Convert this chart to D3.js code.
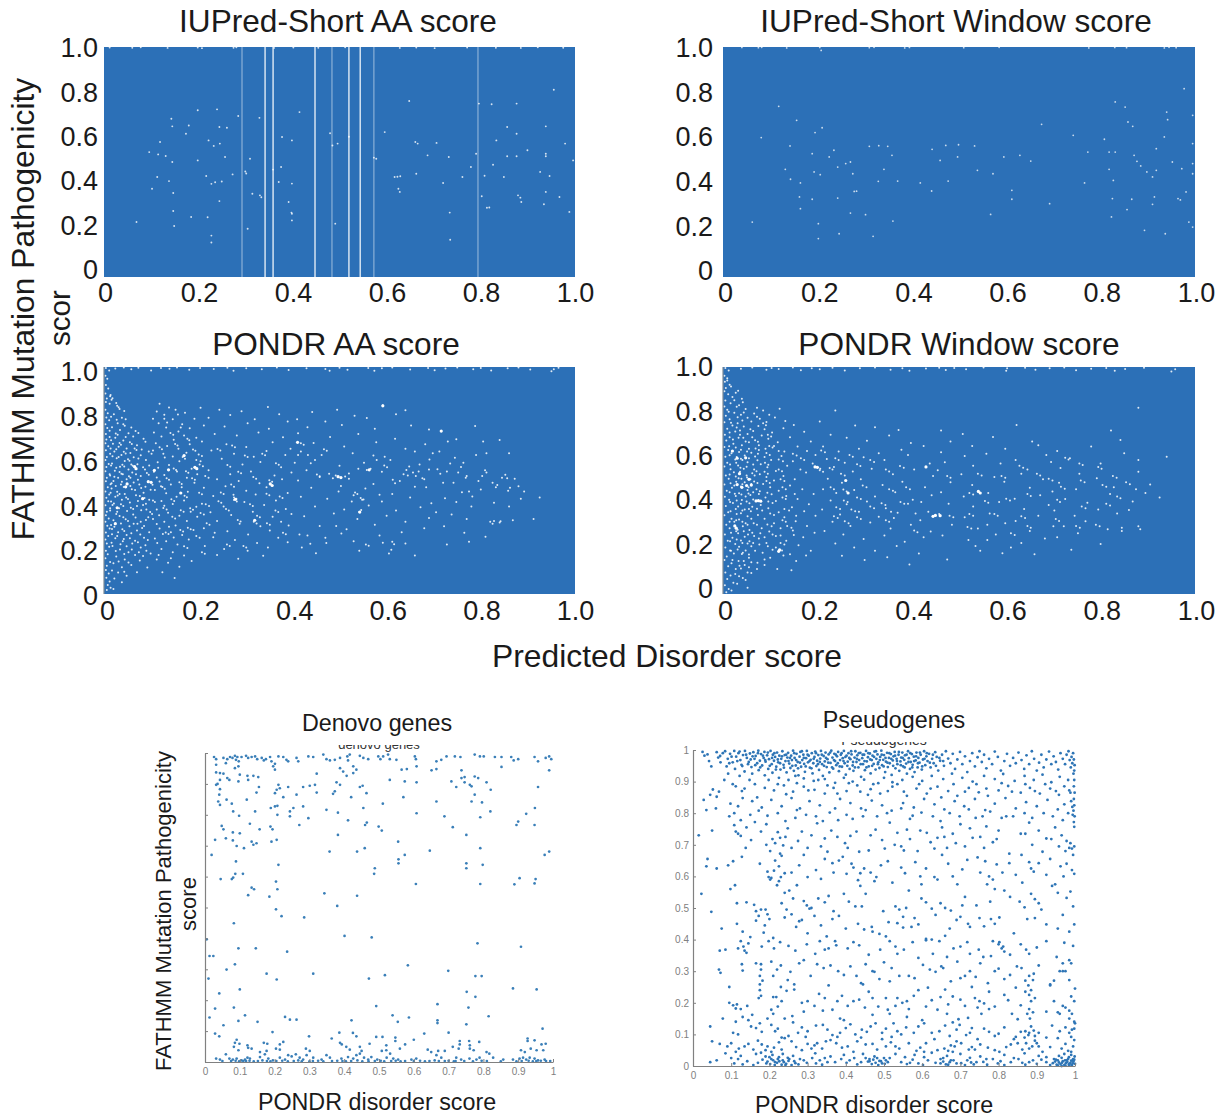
<!DOCTYPE html>
<html>
<head>
<meta charset="utf-8">
<script src="https://cdnjs.cloudflare.com/ajax/libs/d3/7.8.5/d3.min.js"></script>
<style>
  html, body { margin: 0; padding: 0; background: #fff; }
  svg { display: block; font-family: "Liberation Sans", Arial, sans-serif; }
  .soft { filter: blur(0.35px); }
</style>
</head>
<body>
<div id="chart"></div>
<script>
// tick values
const topTicks = [0, 0.2, 0.4, 0.6, 0.8, 1];
const lowXTicks = [0, 0.1, 0.2, 0.3, 0.4, 0.5, 0.6, 0.7, 0.8, 0.9, 1];
const lowYTicks = [0, 0.1, 0.2, 0.3, 0.4, 0.5, 0.6, 0.7, 0.8, 0.9, 1];

// the top four clouds are saturated, so the reference only shows the gaps in them
const iupredAaGapLinesBright = [0.342, 0.359, 0.448, 0.52, 0.544];
const iupredAaGapLinesFaint = [0.293, 0.484, 0.573, 0.794];

// all point lists: x,y, x,y, ... in thousandths
const iupredAaGaps = [
  12,998, 60,997, 78,999, 135,996, 199,998, 208,995, 275,997, 281,999, 361,996, 402,998, 455,997, 512,999, 628,996, 663,998, 702,995, 771,998, 832,997, 885,996, 921,999, 975,997,
  143,688, 145,655, 180,659, 199,725, 240,729, 245,652, 261,649, 174,623, 119,587, 96,543, 115,533, 131,526, 145,500, 113,435, 102,384, 138,417, 147,365, 147,287, 69,239, 149,222,
  185,261, 199,507, 217,439, 222,594, 233,570, 246,580, 257,522, 273,446, 300,459, 302,450, 310,514, 315,362, 331,355, 334,347, 359,467, 376,478, 371,413, 399,406, 392,326, 399,275,
  399,246, 415,717, 378,609, 399,594, 485,572, 496,580, 491,232, 573,519, 578,514, 596,630, 648,765, 617,435, 623,436, 629,438, 625,384, 628,370, 661,587, 666,580, 663,449, 687,529,
  706,583, 720,409, 732,522, 734,280, 735,162, 761,435, 779,478, 790,536, 796,754, 802,351, 813,301, 818,302, 823,751, 826,488, 849,435, 856,652, 876,754, 876,623, 856,525, 879,355,
  886,326, 884,345, 899,551, 876,525, 938,536, 938,525, 938,655, 938,370, 926,457, 946,439, 955,814, 979,580, 996,507, 988,283, 934,316, 967,348, 833,594, 808,440, 228,405, 236,412,
  245,330, 228,180, 228,150, 220,260, 305,210, 398,280, 250,415, 285,700, 330,692, 480,625, 520,610
];

const iupredWindowGaps = [
  40,998, 75,997, 82,999, 135,996, 205,998, 208,985, 310,997, 320,999, 385,996, 395,998, 510,997, 585,999, 775,996, 830,998, 855,997, 935,996, 945,999, 960,997,
  118,742, 156,681, 81,606, 195,628, 210,649, 142,570, 189,536, 235,551, 225,522, 132,468, 143,425, 164,409, 193,457, 206,445, 243,478, 260,493, 270,500, 275,449, 278,372, 283,373,
  162,348, 189,338, 243,343, 164,297, 62,239, 202,232, 202,167, 246,188, 318,177, 270,278, 302,271, 360,243, 310,568, 330,571, 349,568, 358,529, 341,468, 370,417, 329,416, 418,409,
  442,374, 477,417, 443,555, 472,572, 499,575, 497,522, 460,507, 539,464, 533,570, 572,449, 595,522, 629,529, 652,504, 612,377, 612,338, 567,272, 692,319, 675,664, 742,616, 773,543,
  766,409, 808,599, 818,543, 831,543, 818,468, 827,420, 825,341, 866,338, 856,293, 823,261, 831,761, 852,739, 858,674, 868,655, 871,529, 877,503, 885,483, 898,457, 910,435, 918,464,
  918,558, 935,609, 942,684, 940,717, 952,500, 972,471, 964,341, 969,335, 914,348, 910,316, 937,188, 893,203, 987,239, 995,217, 981,370, 977,819, 995,703, 995,493, 995,580, 995,449
];

const pondrAaGaps = [
  // upper edge
  4,996, 11,985, 24,993, 42,998, 58,990, 73,997, 100,985, 121,996, 139,992, 155,998, 181,988, 204,996, 233,991, 262,997, 275,984, 302,995, 335,990, 367,998, 392,987, 430,995,
  470,991, 479,984, 500,997, 517,988, 561,996, 574,983, 590,994, 612,998, 650,989, 688,996, 702,986, 725,993, 750,998, 784,990, 800,996, 822,985, 857,994, 880,998, 905,989, 950,981, 955,990, 965,997,
  // left edge
  3,962, 7,948, 4,921, 9,905, 3,883, 14,877, 6,861, 4,846, 12,838, 3,812, 8,796, 5,778, 11,765, 3,748, 7,731, 4,705, 12,692, 5,681, 3,664, 9,651, 4,633, 13,618, 6,604, 3,590,
  10,573, 5,559, 3,541, 12,527, 6,512, 4,497, 14,483, 8,470, 3,452, 11,438, 5,424, 9,409, 3,391, 13,378, 6,362, 4,347, 10,333, 3,318, 7,301, 12,288, 4,271, 9,255, 3,240, 6,222,
  11,208, 4,190, 8,175, 3,158, 13,141, 6,125, 4,106, 10,90, 5,72, 12,55, 8,40, 14,28, 20,22, 6,18,
  // x up to 0.1
  18,862, 26,841, 33,815, 21,792, 38,776, 29,752, 46,770, 17,735, 34,722, 52,708, 24,688, 41,676, 62,694, 19,662, 31,649, 48,641, 70,655, 22,628, 37,612, 56,621, 80,637, 27,598,
  44,586, 63,602, 17,575, 34,561, 52,548, 71,572, 89,590, 23,543, 40,528, 60,535, 30,512, 48,505, 78,520, 20,498, 36,482, 56,476, 88,472, 16,465, 28,450, 44,441, 66,458, 84,446,
  24,428, 38,415, 55,403, 76,432, 96,415, 18,392, 32,378, 49,366, 70,388, 90,372, 26,352, 41,338, 62,350, 20,325, 36,311, 54,298, 78,318, 94,338, 17,286, 30,272, 48,260, 70,280,
  24,246, 40,232, 60,222, 85,248, 18,212, 34,196, 52,184, 78,205, 26,165, 44,152, 66,172, 90,190, 20,135, 38,118, 58,128, 30,95, 48,80, 22,68, 38,52, 70,96,
  // x 0.1 to 0.2
  118,838, 138,822, 112,804, 152,812, 128,790, 172,798, 104,772, 146,770, 116,752, 166,748, 192,772, 132,733, 158,716, 106,712, 182,730, 122,694, 148,680, 170,698, 196,688, 110,664,
  134,652, 158,640, 182,660, 104,632, 126,618, 146,606, 175,622, 196,590, 114,580, 138,568, 160,585, 186,552, 106,538, 128,524, 155,540, 176,512, 198,528, 118,496, 142,482, 165,470,
  192,490, 108,458, 132,444, 154,428, 178,450, 122,410, 146,396, 170,412, 196,384, 112,372, 136,358, 160,345, 184,362, 104,330, 128,318, 152,302, 176,322, 198,340, 118,288, 142,272,
  166,260, 190,282, 108,244, 132,232, 156,218, 180,240, 122,198, 146,184, 170,170, 112,152, 136,138, 160,120, 186,145, 124,96, 150,70,
  // x 0.2 to 0.4
  205,820, 245,812, 292,805, 348,824, 222,776, 268,788, 320,770, 372,792, 212,742, 256,738, 305,752, 350,728, 390,760, 235,705, 282,698, 328,712, 380,690, 208,672, 260,660, 302,648,
  358,668, 396,640, 228,632, 276,618, 318,605, 345,630, 385,612, 205,585, 250,596, 294,570, 332,582, 376,558, 222,545, 268,528, 312,540, 362,522, 398,535, 240,505, 286,498, 330,488,
  378,506, 212,468, 258,475, 302,455, 345,470, 390,445, 232,432, 276,425, 322,438, 365,412, 208,398, 254,385, 298,405, 340,392, 386,375, 226,360, 270,348, 316,362, 358,340, 398,352,
  240,322, 288,310, 332,298, 376,318, 212,290, 262,276, 306,262, 352,280, 392,302, 232,250, 278,238, 325,225, 370,248, 214,212, 255,198, 305,190, 348,205, 390,228, 240,172, 285,155, 338,168,
  // x 0.4 to 0.7
  442,802, 495,812, 592,832, 532,785, 410,770, 470,760, 558,775, 620,792, 640,810, 432,735, 505,745, 575,728, 652,742, 412,708, 480,692, 540,705, 618,684, 690,725, 445,665, 510,650,
  578,668, 640,640, 682,660, 418,628, 462,612, 528,620, 596,605, 660,628, 405,578, 448,590, 500,565, 552,578, 608,590, 670,570, 430,545, 478,530, 540,552, 590,538, 645,522, 690,548,
  412,500, 458,515, 520,508, 572,485, 628,498, 680,505, 440,468, 498,452, 555,465, 612,440, 660,472, 418,428, 474,420, 530,435, 548,415, 590,408, 650,425, 695,400, 448,385, 510,372,
  562,390, 620,368, 672,382, 425,342, 488,355, 538,330, 600,345, 640,318, 690,335, 458,300, 515,285, 575,305, 632,272, 680,290, 415,262, 470,248, 530,232, 585,258, 640,222, 420,205, 450,180, 610,195, 660,170,
  // x 0.7 to 0.93
  716,716, 730,672, 712,628, 745,600, 758,560, 728,540, 770,520, 790,612, 742,490, 812,535, 835,480, 760,448, 800,460, 856,510, 724,422, 748,405, 780,385, 828,402, 862,468, 705,360,
  738,350, 770,330, 825,310, 840,315, 868,325, 722,298, 765,270, 810,252, 728,218, 775,230, 812,620, 788,740, 840,678, 860,620, 748,682, 805,672, 880,475, 925,425, 912,330, 860,385
];
// second pass over the same panel, the small clumps the first pass skipped
const pondrAaClumps = [
  13,871, 16,856, 28,829, 31,823, 43,806, 15,781, 27,768, 41,748, 44,741, 58,733, 12,719, 25,707, 29,701, 46,692, 67,718, 73,709, 15,677, 33,665, 36,658, 55,668, 59,661, 84,684, 88,671,
  14,641, 26,638, 42,627, 46,619, 65,641, 69,634, 95,628, 101,618, 18,607, 31,603, 51,594, 54,587, 73,597, 78,611, 15,566, 26,556, 39,569, 43,562, 58,571, 61,565, 83,558, 87,549, 96,566,
  13,522, 22,516, 33,537, 37,530, 53,519, 56,512, 68,528, 72,503, 91,533, 95,525, 112,513, 16,488, 25,476, 38,494, 42,471, 59,462, 63,491, 75,482, 79,467, 99,459, 103,481, 121,475,
  14,446, 29,434, 33,441, 47,425, 51,418, 68,435, 72,410, 86,423, 89,398, 104,412, 108,405, 128,389, 15,407, 21,399, 36,395, 41,388, 57,380, 62,375, 79,369, 83,392, 98,361, 102,352, 117,347,
  13,368, 28,362, 33,344, 46,329, 51,322, 67,337, 71,310, 85,300, 89,326, 112,308, 138,296, 15,304, 22,296, 39,285, 43,278, 58,268, 63,309, 77,262, 81,291, 96,272, 125,264, 148,249,
  17,263, 28,255, 35,219, 42,242, 55,246, 66,235, 72,228, 88,215, 93,238, 113,225, 16,226, 25,189, 43,176, 48,210, 59,196, 74,184, 83,167, 99,178, 116,172, 142,158, 31,143, 52,139, 76,148, 92,117, 17,104, 43,98,
  128,772, 134,756, 157,791, 163,733, 141,709, 147,702, 177,684, 181,677, 151,661, 156,654, 118,647, 123,638, 167,603, 172,596, 201,615, 208,608, 129,601, 189,637, 194,631, 148,553, 153,546, 115,556,
  174,541, 179,534, 203,571, 210,563, 133,510, 138,503, 160,492, 165,485, 187,510, 193,503, 215,520, 222,512, 124,471, 129,464, 171,433, 176,426, 202,446, 208,439, 143,417, 149,410, 183,378, 189,371,
  216,395, 223,388, 126,379, 133,372, 163,369, 169,362, 205,357, 212,350, 145,340, 151,333, 178,292, 184,285, 218,312, 224,305, 131,271, 137,264, 162,282, 168,275, 196,255, 203,248, 235,270, 170,210, 177,203, 208,184, 214,177,
  241,639, 247,632, 272,654, 278,647, 299,610, 305,603, 336,618, 342,611, 365,576, 371,569, 262,568, 268,561, 285,539, 291,532, 317,515, 323,508, 351,501, 357,494, 270,482, 276,473, 275,437, 281,420, 345,442, 351,435, 248,447, 254,440,
  276,414, 282,407, 310,395, 316,388, 373,430, 379,423, 243,409, 249,402, 259,375, 265,368, 325,345, 331,338, 364,368, 370,361, 284,326, 290,319, 318,318, 324,311, 261,218, 267,211, 346,312, 352,305, 380,270, 386,263, 296,212, 302,205,
  412,612, 418,664, 424,658, 433,612, 439,576, 452,526, 458,519, 467,638, 473,631, 486,510, 492,522, 503,476, 512,518, 520,531, 526,408, 533,447, 538,441, 545,423, 551,416, 546,370, 542,361, 558,546, 566,552, 572,610, 579,590, 585,437,
  595,566, 601,558, 613,503, 618,488, 636,527, 642,546, 648,562, 656,535, 662,520, 668,540, 676,510, 684,470, 691,592, 698,620, 708,550, 714,530, 720,490, 735,575, 752,535, 763,578, 768,512, 775,452, 782,430, 795,498, 803,520, 809,545,
  825,490, 832,470, 845,512, 852,525, 858,455, 872,508, 885,420, 892,452, 820,318, 828,322, 842,320, 432,258, 438,221, 472,225, 493,300, 504,266, 556,218, 562,213, 542,190, 592,226, 605,178, 612,230, 616,219
];
const pondrAaBigGaps = [
  65,561, 68,552, 137,547, 193,558, 197,552, 563,547, 94,495, 100,492, 49,485, 46,472, 353,485, 357,478, 497,517, 503,513, 82,420, 279,417, 543,361, 320,325, 716,718, 592,829, 411,668, 107,545, 170,610, 163,445, 28,380, 24,310
];

const pondrWindowGaps = [
  // upper edge
  5,996, 12,985, 38,992, 62,998, 92,988, 103,996, 118,991, 148,998, 165,986, 188,995, 205,990, 232,997, 258,985, 290,994, 322,998, 355,988, 380,995, 395,983, 430,993, 458,997, 472,987,
  490,996, 515,990, 552,998, 600,984, 602,994, 640,997, 662,988, 692,995, 723,998, 748,986, 780,992, 812,996, 830,984, 852,991, 892,997, 950,980, 958,990,
  // x below 0.03, the pale band
  3,962, 9,950, 4,935, 14,922, 6,908, 3,893, 11,880, 20,868, 5,852, 16,840, 3,826, 9,812, 24,798, 6,785, 14,770, 3,757, 20,742, 9,728, 26,716, 4,702, 14,690, 7,676, 22,662, 3,648, 11,634,
  18,620, 5,605, 26,592, 9,578, 3,562, 16,550, 23,536, 6,522, 12,508, 28,495, 3,482, 19,468, 8,455, 25,442, 4,428, 13,415, 21,401, 6,388, 27,374, 11,360, 3,347, 18,332, 24,318, 7,305,
  14,290, 28,276, 4,262, 20,248, 10,235, 26,220, 5,205, 15,192, 23,178, 8,165, 3,150, 18,136, 11,122, 27,110, 5,95, 16,82, 9,66, 22,50, 4,38, 12,22, 18,15, 7,8,
  // x 0.03 to 0.07
  32,895, 40,860, 34,832, 48,815, 38,790, 52,776, 31,752, 44,738, 60,760, 36,720, 52,705, 33,688, 48,672, 62,690, 40,655, 55,640, 34,626, 46,610, 60,622, 38,596, 52,580, 32,566, 44,552,
  64,570, 36,538, 50,522, 58,505, 33,510, 46,492, 60,485, 38,474, 52,458, 34,444, 48,430, 64,448, 40,414, 56,400, 32,386, 46,372, 62,384, 38,356, 52,342, 34,328, 48,312, 60,332, 42,298,
  56,282, 32,268, 46,252, 62,270, 38,236, 52,222, 34,208, 48,192, 60,210, 40,176, 55,160, 33,145, 46,128, 60,140, 38,112, 52,95, 34,78, 48,62, 30,45, 52,28,
  // x 0.07 to 0.2
  72,820, 85,808, 98,790, 120,816, 78,772, 92,758, 110,778, 132,762, 75,740, 88,726, 104,712, 128,730, 150,745, 82,698, 96,684, 116,668, 142,690, 172,715, 76,655, 90,640, 108,652, 130,628,
  158,650, 186,672, 74,618, 88,604, 102,590, 124,608, 148,585, 178,630, 196,612, 80,572, 94,558, 112,542, 136,565, 164,548, 190,575, 78,528, 92,515, 108,500, 128,520, 152,505, 176,535, 198,560,
  85,485, 100,470, 118,455, 142,478, 168,462, 192,440, 76,440, 90,425, 112,410, 134,432, 158,418, 182,395, 80,392, 96,378, 118,360, 146,382, 172,365, 196,345, 74,348, 88,332, 108,312, 130,338,
  154,320, 178,300, 82,290, 98,275, 122,258, 148,280, 170,250, 194,270, 76,245, 92,225, 112,205, 134,235, 160,215, 186,190, 84,182, 100,160, 128,170, 155,145, 176,170, 88,128, 115,110, 145,105,
  // x 0.2 to 0.45
  205,760, 238,808, 280,742, 322,735, 372,722, 228,702, 262,688, 305,675, 352,698, 398,665, 212,650, 245,628, 288,640, 330,620, 378,636, 425,652, 220,595, 258,578, 298,602, 342,590, 392,612,
  438,575, 206,552, 235,560, 275,540, 315,552, 360,528, 405,548, 445,520, 222,508, 252,490, 292,505, 338,480, 380,495, 428,470, 212,462, 240,445, 278,458, 322,430, 365,448, 402,415, 442,435,
  228,412, 262,395, 305,408, 345,378, 392,398, 435,362, 210,372, 248,350, 288,362, 330,340, 370,358, 418,325, 232,318, 270,300, 312,315, 355,288, 398,305, 440,275, 215,278, 255,262, 298,242,
  342,258, 385,230, 425,250, 238,222, 278,205, 322,190, 368,212, 415,178, 252,168, 300,150, 348,162, 395,130,
  // x 0.45 to 0.7
  462,720, 508,705, 572,692, 622,745, 655,672, 482,672, 528,652, 598,640, 668,655, 462,625, 512,608, 558,618, 620,590, 685,612, 470,580, 530,565, 588,575, 645,548, 695,582, 455,545, 505,528,
  575,515, 632,530, 678,505, 482,492, 528,480, 596,495, 650,468, 698,452, 462,448, 510,430, 562,445, 618,420, 672,435, 478,398, 530,385, 585,405, 638,375, 690,392, 458,352, 512,338, 565,355,
  620,322, 668,345, 485,305, 540,288, 598,312, 650,278, 700,298, 465,258, 520,238, 578,262, 632,225, 682,245, 545,190, 610,205, 660,175, 475,152,
  // x 0.7 to 0.95
  880,820, 822,720, 708,630, 735,598, 780,650, 842,678, 715,555, 755,530, 800,575, 850,620, 880,590, 712,490, 748,462, 792,510, 828,470, 880,538, 905,482, 940,605, 725,418, 772,402, 820,440,
  868,408, 925,425, 702,368, 745,345, 795,372, 835,355, 895,445, 722,298, 768,320, 815,285, 880,298, 884,285, 708,250, 752,268, 800,220, 738,195
];
const pondrWindowClumps = [
  9,941, 17,914, 27,887, 24,853, 42,845, 29,825, 12,803, 44,800, 31,779, 17,754, 41,764, 66,795, 72,781, 14,711, 29,734, 36,701, 58,726, 64,718, 85,752, 91,743, 21,681, 43,688, 55,669, 68,677, 74,671,
  95,701, 102,694, 13,651, 27,645, 38,636, 51,628, 69,641, 76,634, 98,652, 105,645, 14,611, 29,603, 41,590, 55,598, 68,606, 73,589, 92,621, 99,612, 118,630, 15,571, 28,578, 37,556, 50,561, 66,548, 71,541,
  89,578, 96,569, 118,592, 127,585, 14,526, 27,518, 39,508, 51,513, 62,532, 67,522, 88,538, 95,530, 118,548, 125,541, 16,488, 24,478, 41,484, 54,470, 66,496, 73,489, 92,498, 99,489, 122,505, 130,498,
  14,448, 27,432, 39,438, 54,443, 58,436, 71,461, 78,453, 94,446, 103,439, 126,470, 133,462, 15,405, 29,412, 38,398, 50,408, 64,416, 96,408, 105,401, 126,425, 133,418, 152,440, 16,365, 29,352, 41,368, 55,375,
  59,365, 72,376, 83,368, 100,355, 108,348, 130,375, 140,368, 14,318, 28,325, 41,318, 52,305, 65,312, 72,305, 94,306, 103,299, 122,290, 126,325, 133,318, 155,345, 17,270, 31,283, 44,276, 53,262, 66,255, 79,268,
  88,250, 105,262, 112,255, 136,300, 145,292, 15,232, 29,240, 41,225, 56,232, 64,225, 77,218, 95,210, 122,225, 130,218, 150,260, 17,190, 31,196, 42,182, 55,174, 68,190, 88,152, 105,195, 125,192, 142,175,
  20,150, 35,125, 44,145, 55,118, 73,138, 26,88, 42,70, 60,92, 72,110, 205,545, 212,538, 148,618, 156,610, 165,598, 172,590, 208,632, 216,625, 238,598, 245,590, 268,612, 275,605, 226,555, 232,548,
  250,530, 258,522, 284,572, 291,564, 312,590, 320,582, 345,548, 352,540, 375,564, 383,556, 228,470, 235,462, 255,460, 262,452, 296,478, 304,470, 352,462, 360,455, 388,470, 396,462, 256,412, 264,405, 284,425, 292,418,
  336,400, 344,392, 376,405, 384,398, 420,405, 240,382, 248,375, 272,372, 280,365, 312,385, 320,378, 356,362, 362,335, 408,355, 235,342, 243,335, 258,320, 266,312, 284,338, 292,330, 345,325, 352,318, 405,280, 412,272,
  475,520, 482,512, 540,530, 548,522, 590,520, 598,512, 628,565, 636,556, 665,530, 672,522, 522,445, 530,438, 555,410, 562,402, 600,420, 608,412, 645,440, 652,432, 690,508, 698,500, 725,600, 732,592, 755,575, 762,568,
  795,560, 802,552, 826,520, 834,512, 854,492, 862,484, 716,472, 724,464, 758,500, 766,492, 804,480, 812,472, 835,430, 842,422, 875,462, 708,415, 714,405, 760,385, 768,378, 812,398, 820,390, 860,370, 705,330, 712,322,
  748,300, 756,292, 790,305, 798,298, 845,292, 845,278, 522,352, 530,345, 575,352, 582,345, 632,342, 640,335, 480,345, 488,338, 518,295, 526,288, 560,305, 610,268, 618,260, 645,300, 652,292, 535,212, 560,238, 592,180
];
const pondrWindowBigGaps = [
  70,410, 75,411, 80,409, 545,445, 541,452, 55,505, 260,500, 60,480, 50,478, 30,482, 40,470, 35,530, 48,600, 30,598, 460,345, 445,342, 450,346, 430,560, 195,560, 200,558, 265,445, 120,195, 118,188, 20,630, 25,300, 28,290
];

const denovoPts = [
  26,987, 32,980, 53,984, 64,980, 60,967, 72,987, 79,984, 86,991, 89,978, 93,987, 97,973, 105,987, 118,991, 124,984, 134,987, 144,989, 150,980, 163,984, 169,976, 175,980, 187,987, 191,973, 201,965, 211,989, 225,987, 234,978,
  239,973, 263,984, 268,973, 297,989, 311,987, 340,995, 349,980, 359,976, 373,978, 388,984, 409,989, 416,995, 411,976, 445,991, 455,984, 469,980, 498,989, 504,980, 512,989, 526,995, 531,980, 550,978, 603,989, 606,980,
  665,973, 679,978, 694,989, 718,989, 734,987, 775,995, 790,989, 801,989, 833,987, 852,987, 880,987, 887,976, 900,980, 947,987, 957,973, 979,984, 989,989, 995,980,
  32,962, 32,937, 43,935, 53,933, 86,951, 96,957, 201,946, 196,957, 388,951, 397,940, 426,957, 435,946, 407,926, 426,935, 608,957, 565,946, 580,948, 651,944, 665,948, 737,944, 852,955, 989,944, 321,933,
  36,900, 32,897, 43,913, 64,919, 70,913, 100,930, 122,926, 139,926, 153,922, 96,908, 124,913, 531,913, 574,908, 608,905, 708,908, 746,922, 775,924, 785,919, 737,919, 746,905, 722,890, 761,897, 766,892, 809,905, 821,881, 957,890,
  211,897, 239,890, 316,897, 301,894, 282,890, 378,905, 388,897, 445,890, 453,894, 215,886, 206,881, 201,870, 225,857, 263,865, 373,876, 368,868, 420,857, 464,870, 321,872, 43,883, 41,865, 38,843, 43,832, 62,849, 77,836, 120,849, 148,872, 155,890, 570,857, 775,865, 766,843, 796,840, 665,843,
  201,827, 208,829, 189,822, 282,827, 254,822, 244,811, 244,795, 208,800, 81,811, 98,797, 144,811, 297,789, 349,816, 382,807, 455,822, 511,836, 608,805, 688,795, 791,792, 820,811, 923,803, 948,822, 900,778, 895,767, 947,767,
  48,764, 53,753, 129,771, 157,753, 188,762, 194,753, 271,767, 411,782, 465,775, 460,767, 499,762, 508,749, 712,760, 751,735, 80,743, 100,740, 60,724, 29,719, 80,717, 91,699, 112,692, 134,713, 139,703, 148,708, 191,713, 206,719,
  382,735, 555,713, 358,681, 437,681, 459,692, 646,684, 791,692, 19,670, 574,670, 556,656, 556,643, 751,643, 751,627, 798,638, 89,649, 211,638, 989,681, 976,670, 488,627,
  486,609, 87,609, 109,609, 45,592, 77,592, 81,597, 204,584, 208,559, 134,564, 141,559, 124,540, 185,535, 343,546, 437,538, 606,576, 791,576, 889,575, 904,595, 947,578, 950,592,
  204,494, 220,472, 285,468, 380,505, 83,449, 401,408, 479,403, 5,397, 96,368, 146,368, 236,357, 783,384, 908,373, 13,343, 24,343, 86,316, 62,299, 177,286, 206,267, 311,286, 10,270, 471,270, 517,281, 583,313, 699,295, 777,278, 795,278,
  100,235, 41,222, 83,176, 29,173, 752,227, 777,211, 757,176, 885,238, 953,235, 492,181, 668,187, 115,151, 230,146, 244,137, 263,137, 151,130, 13,144, 53,119, 96,133, 421,135, 539,151, 554,130, 586,144, 668,135, 668,126, 751,122, 815,148, 970,108,
  29,92, 41,83, 194,97, 299,83, 386,95, 425,94, 435,83, 492,81, 510,81, 547,79, 547,68, 600,72, 630,92, 700,95, 364,76, 91,72, 86,62, 99,59, 122,54, 169,62, 179,59, 225,65, 215,57, 388,62, 393,57, 473,59, 521,54, 575,57, 732,68, 732,57, 759,68, 761,54, 788,65, 927,76, 927,68, 947,70, 967,57, 979,59,
  83,49, 96,38, 124,46, 134,43, 158,32, 177,36, 204,43, 215,40, 290,43, 301,36, 406,49, 416,40, 445,49, 450,36, 508,36, 521,38, 532,27, 560,43, 640,40, 650,32, 670,36, 689,36, 712,49, 729,43, 761,43, 772,38, 809,32, 817,27, 908,38, 919,32, 936,43, 953,38, 972,38,
  32,11, 43,8, 60,25, 70,11, 80,8, 91,11, 105,5, 115,8, 122,14, 129,11, 158,16, 172,25, 182,11, 215,14, 230,8, 239,22, 249,18, 261,25, 272,14, 282,8, 292,22, 311,14, 335,8, 349,22, 359,14, 392,11, 411,16, 426,11, 435,22, 445,27, 457,14, 469,8, 478,16, 495,8, 522,14, 541,11, 555,8, 593,8, 607,11, 665,22, 679,14, 689,3, 722,14, 736,8, 760,11, 780,8, 789,14, 828,14, 857,8, 885,8, 904,11, 914,14, 923,8, 933,14, 947,11, 957,5, 976,8,
  50,3, 118,3, 195,5, 300,2, 395,3, 470,2, 575,3, 720,3, 850,2, 980,3,
  75,3, 88,4, 98,2, 110,3, 128,4, 140,2, 152,3, 165,5, 178,3, 188,2, 205,3, 222,4, 238,2, 255,3, 268,5, 278,2, 310,3, 325,4, 340,2, 365,3, 380,4, 405,2, 420,3, 438,5, 452,2, 488,3, 505,4, 515,2, 535,3, 548,4, 562,2, 600,3, 618,4, 632,2, 645,3, 660,5, 672,3, 700,4, 715,2, 745,3, 770,2, 795,4, 810,3, 895,2, 910,3, 930,4, 942,2, 952,3, 965,4, 992,3
];

const pseudoPts = [
  // dense band at the top
  62,993, 71,981, 84,996, 91,972, 97,988, 104,961, 108,997, 113,979, 119,990, 124,968, 127,953, 131,984, 136,997, 141,975, 146,962, 149,989, 153,946, 158,993, 161,972, 164,981, 168,958, 171,998, 175,966, 178,987, 181,951, 185,975, 187,994, 190,963, 194,983, 197,940, 199,971, 203,997, 206,955, 209,985, 212,966, 215,978, 218,947, 220,992, 223,961, 226,982, 229,938, 231,972, 234,996, 237,953, 240,984, 242,965, 245,929, 247,976, 249,991, 252,957, 255,943, 257,982, 259,968, 262,998, 264,934, 266,975, 269,951, 271,988, 274,962, 276,920, 279,979, 281,994, 283,947, 286,968, 289,985, 291,956, 293,931, 296,974, 298,997, 301,961, 303,982, 306,944, 308,969, 311,990, 313,926, 315,958, 318,978, 320,995, 323,949, 325,966, 328,984, 330,937, 333,973, 335,997, 338,955, 340,918, 342,981, 345,964, 347,992, 350,946, 352,971, 355,986, 357,929, 360,959, 362,998, 365,976, 367,941, 370,988, 372,965, 375,952, 377,980, 380,994, 382,933, 385,968, 387,985, 390,947, 392,974, 395,997, 397,958, 400,922, 402,982, 405,963, 407,990, 410,940, 412,971, 415,986, 418,951, 420,934, 423,976, 425,996, 428,962, 430,983, 433,945, 435,968, 438,991, 440,915, 443,974, 445,955, 448,985, 450,936, 453,997, 455,964, 458,977, 460,948, 463,989, 465,926, 468,968, 470,982, 473,956, 475,995, 478,938, 480,972, 483,986, 485,961, 488,943, 490,978, 493,998, 495,952, 498,969, 500,984, 503,930, 505,963, 508,991, 510,946, 513,975, 515,958, 518,987, 520,921, 523,967, 525,980, 528,994, 530,942, 533,972, 535,955, 538,985, 540,934, 543,964, 545,976, 548,992, 550,948, 553,969, 555,983, 558,957, 560,925, 563,996, 565,974, 568,940, 570,962, 573,987, 575,953, 578,979, 580,930, 583,967, 585,992, 588,945, 590,975, 593,960, 596,985, 599,938, 602,970, 605,996, 608,952, 611,980, 614,965, 618,988, 622,945, 626,972, 630,958, 634,993, 638,978, 642,935, 647,966, 652,985, 657,950, 662,996, 668,973, 674,958, 680,988, 686,940, 692,970, 699,994, 705,955, 712,980, 718,930, 725,965, 731,990, 738,948, 745,977, 750,996, 756,962, 762,985, 768,942, 775,972, 783,955, 790,995, 798,978, 806,935, 815,965, 822,988, 830,950, 838,975, 845,958, 852,992, 860,968, 867,940, 873,983, 880,955, 887,996, 893,972, 900,935, 906,960, 912,985, 918,945, 925,970, 932,995, 938,955, 944,980, 950,962, 956,938, 962,990, 968,972, 974,955, 978,985, 983,996, 986,968, 989,945, 991,978, 993,958, 995,990, 997,970, 998,935, 999,952,
  25,994, 30,982, 42,965, 48,948, 38,986, 72,961, 88,948, 110,940, 135,932, 92,925, 122,918, 155,925, 172,936, 188,920, 208,928, 225,912, 250,905, 268,918, 290,910, 316,902, 345,908, 372,896, 395,912, 418,900, 448,906, 472,892, 500,912, 522,898, 548,905, 575,915, 600,902, 625,918, 655,908, 678,925, 705,912, 732,900, 762,918, 790,908, 812,924, 842,902, 868,918, 892,905, 915,922, 938,898, 960,915, 982,905, 996,925, 998,905, 997,885, 999,865, 997,845, 998,825, 996,808, 999,790, 997,772, 998,757, 994,795, 993,820,
  // 0.8 to 0.9
  52,875, 68,868, 45,858, 62,852, 28,842, 112,885, 135,878, 162,892, 188,880, 212,872, 238,888, 262,868, 290,884, 318,874, 345,862, 368,880, 402,870, 430,888, 465,876, 490,862, 522,884, 552,868, 585,878, 612,862, 640,884, 668,870, 692,855, 722,880, 748,866, 768,878, 800,872, 825,886, 858,865, 882,880, 908,862, 935,878, 958,858, 985,872,
  35,810, 60,815, 98,830, 118,822, 130,848, 155,838, 180,818, 205,842, 232,822, 258,848, 280,815, 305,838, 332,825, 358,802, 385,845, 412,832, 440,815, 468,840, 495,825, 520,808, 550,832, 578,818, 605,845, 632,828, 658,812, 685,838, 710,822, 738,845, 765,810, 790,830, 818,848, 845,815, 872,835, 900,822, 928,842, 955,812, 972,828, 990,838,
  // 0.6 to 0.8
  15,730, 50,745, 95,790, 108,762, 112,742, 125,728, 140,755, 162,772, 178,742, 195,792, 208,718, 215,705, 228,722, 236,698, 248,752, 268,785, 285,742, 300,690, 325,768, 345,720, 362,745, 380,778, 398,705, 412,728, 428,742, 445,790, 460,682, 478,748, 495,715, 515,770, 535,738, 545,695, 552,682, 560,748, 575,792, 595,745, 622,708, 640,722, 652,755, 665,690, 680,735, 700,765, 712,695, 725,752, 740,785, 752,725, 768,758, 785,708, 800,745, 820,790, 860,668, 870,735, 880,770, 905,745, 925,720, 948,755, 965,730, 978,712, 985,690, 992,688, 998,695,
  38,655, 35,632, 62,625, 92,635, 105,648, 128,662, 175,640, 195,615, 198,598, 215,650, 225,632, 240,610, 232,665, 205,595, 278,635, 290,668, 322,620, 345,655, 365,642, 368,612, 392,662, 415,640, 420,628, 438,610, 448,625, 480,598, 510,648, 555,610, 595,600, 610,625, 652,668, 680,600, 705,622, 745,660, 765,648, 775,600, 795,638, 810,612, 845,605, 880,645, 885,625, 892,615, 935,655, 962,632, 970,600, 992,620, 998,608,
  // 0.4 to 0.6
  22,545, 98,560, 48,488, 110,572, 115,515, 140,518, 165,490, 178,495, 190,495, 188,445, 195,480, 225,585, 240,548, 252,555, 262,530, 272,572, 290,522, 298,508, 305,498, 310,500, 345,518, 355,538, 365,465, 395,545, 425,505, 438,570, 452,545, 475,585, 530,505, 540,495, 550,472, 565,555, 580,468, 610,518, 625,498, 640,590, 660,500, 675,492, 705,508, 720,450, 750,468, 770,575, 790,560, 815,555, 855,520, 868,502, 885,545, 895,528, 912,495, 940,570, 955,548, 978,532, 995,505, 998,448,
  75,435, 115,450, 130,425, 150,408, 165,460, 185,422, 210,405, 240,470, 270,440, 285,462, 300,420, 335,445, 350,410, 372,395, 400,435, 432,450, 448,432, 470,425, 488,418, 505,410, 535,452, 550,438, 590,448, 610,402, 625,400, 660,412, 672,435, 700,472, 725,440, 780,465, 790,450, 840,420, 895,468, 955,435, 985,425,
  // 0.2 to 0.4
  70,365, 85,368, 118,372, 135,365, 125,395, 145,388, 180,378, 250,380, 320,355, 355,372, 375,382, 420,392, 460,352, 530,378, 535,355, 590,342, 610,398, 665,345, 700,378, 725,355, 760,345, 785,395, 800,385, 808,372, 815,362, 880,355, 900,375, 995,380, 985,335, 990,325,
  68,305, 72,295, 95,250, 128,322, 130,302, 165,325, 178,322, 205,330, 230,318, 248,272, 265,242, 290,335, 325,322, 342,310, 380,300, 395,288, 440,262, 470,300, 475,298, 500,328, 540,285, 565,285, 620,305, 650,315, 655,310, 675,268, 700,278, 725,300, 740,282, 790,300, 800,308, 830,288, 860,310, 880,285, 885,240, 890,272, 935,255, 960,300, 968,300, 975,300, 985,272, 1000,245,
  175,258, 175,240, 178,222, 210,218, 218,218, 230,250, 245,238, 265,258, 300,205, 330,228, 355,255, 390,222, 420,205, 445,258, 460,235, 470,215, 515,268, 535,215, 560,205, 590,240, 615,248, 625,208, 660,242, 680,220, 700,210, 730,250, 750,205, 775,235, 815,225, 845,248, 870,235, 880,225, 885,205, 935,258, 990,220, 998,205,
  // below 0.2
  105,192, 115,195, 125,180, 78,150, 130,155, 145,145, 155,162, 205,178, 210,165, 240,150, 260,158, 290,172, 340,175, 365,178, 385,150, 395,145, 450,185, 470,162, 510,178, 515,165, 530,190, 560,155, 565,180, 600,145, 640,178, 665,165, 695,148, 720,152, 745,185, 755,165, 775,180, 835,165, 850,148, 880,180, 890,170, 955,170, 960,165, 975,185, 985,150, 998,140,
  45,125, 105,105, 118,100, 165,120, 180,108, 205,130, 222,118, 250,95, 285,122, 300,110, 340,130, 365,98, 385,105, 400,120, 425,100, 455,108, 465,125, 505,118, 525,135, 535,110, 545,100, 590,125, 625,105, 660,128, 680,138, 690,115, 715,98, 730,120, 775,108, 800,102, 845,92, 870,110, 880,105, 885,125, 895,95, 960,110, 985,105, 1000,135, 990,92,
  50,78, 70,70, 100,72, 120,55, 135,62, 170,80, 190,50, 205,45, 225,75, 240,88, 270,60, 300,70, 310,55, 318,65, 360,82, 375,72, 390,58, 430,78, 440,90, 470,70, 495,85, 505,62, 540,55, 585,48, 595,58, 610,72, 625,42, 640,50, 675,65, 680,45, 690,78, 730,60, 738,52, 745,85, 790,50, 820,60, 840,85, 850,72, 880,55, 900,72, 905,62, 925,90, 955,88, 975,70, 990,45, 998,82,
  85,40, 100,25, 125,32, 165,38, 178,42, 190,30, 200,28, 208,35, 222,22, 235,38, 248,26, 262,32, 290,18, 320,40, 345,25, 360,30, 395,35, 410,18, 445,38, 462,22, 475,30, 488,16, 500,25, 530,38, 555,28, 580,35, 605,28, 648,22, 665,32, 682,18, 700,38, 725,26, 752,30, 785,22, 815,35, 840,25, 868,40, 890,18, 905,32, 925,28, 950,20, 958,32, 965,26, 972,38, 978,18, 984,28, 990,35, 995,22, 999,30,
  45,12, 108,8, 130,5, 158,3, 170,10, 195,14, 202,6, 210,18, 214,3, 220,10, 226,15, 232,4, 238,12, 244,7, 250,16, 258,3, 268,9, 276,5, 322,8, 338,4, 352,12, 430,5, 458,14, 468,6, 478,10, 485,3, 492,15, 502,7, 510,12, 560,6, 568,10, 602,3, 648,8, 655,14, 668,4, 672,12, 702,9, 712,3, 728,11, 735,5, 760,13, 770,4, 798,8, 815,3, 862,10, 870,4, 900,7, 935,3, 942,9, 948,14, 952,4, 958,11, 962,6, 968,15, 972,3, 976,9, 980,13, 984,5, 988,10, 992,3, 996,14, 1000,7, 994,18, 985,2, 975,1, 955,2, 965,0
];
// second pass over the pseudogene panel, filling what the first pass thinned out
const pseudoExtraPts = [
  // the band again, it merges into a near solid strip up to x 0.6
  66,976, 78,990, 95,958, 101,979, 116,965, 122,995, 129,949, 139,985, 144,955, 151,970, 156,980, 163,952, 170,990, 176,945, 183,982, 189,968, 196,992, 201,950, 207,975, 213,990, 217,938, 222,970, 228,958, 233,980, 238,944, 244,985, 250,965, 254,975, 260,950, 265,990, 270,968, 275,942, 280,960, 285,996, 290,975, 295,948, 300,985, 305,965, 310,942, 316,972, 322,990, 327,955, 332,962, 337,985, 343,950, 348,975, 354,960, 359,992, 364,945, 369,968, 374,985, 379,958, 384,948, 389,990, 394,965, 399,978, 404,950, 409,975, 414,996, 419,962, 424,945, 429,972, 434,990, 439,955, 444,985, 449,965, 454,945, 459,990, 464,970, 469,950, 474,978, 479,996, 484,955, 489,968, 494,985, 499,948, 504,975, 509,960, 514,990, 519,972, 524,950, 529,982, 534,965, 539,994, 544,952, 549,975, 554,945, 559,985, 564,962, 569,990, 574,945, 579,965, 584,980, 589,958, 594,992, 600,948, 606,972, 612,990, 620,960, 628,985, 636,950, 645,975, 655,965,
  // scattered below
  82,905, 104,892, 128,870, 148,905, 168,850, 198,905, 222,892, 244,860, 272,895, 302,872, 328,905, 352,888, 378,862, 408,895, 438,868, 458,858, 485,895, 510,870, 535,892, 560,855, 592,892, 622,878, 650,850, 682,892, 712,868, 742,892, 772,855, 808,895, 835,868, 870,892, 895,870, 922,892, 950,870, 972,885, 988,865,
  108,800, 125,778, 150,795, 172,808, 192,765, 222,800, 242,775, 272,810, 296,795, 322,790, 340,775, 372,815, 402,795, 418,782, 452,810, 482,790, 508,800, 545,815, 568,782, 598,802, 628,790, 648,775, 672,800, 698,790, 722,812, 758,790, 778,805, 808,785, 838,790, 868,800, 888,785, 918,800, 942,790, 968,778, 982,800,
  118,735, 138,690, 152,715, 192,700, 202,680, 222,740, 228,672, 242,725, 258,690, 275,712, 310,730, 335,695, 352,678, 378,725, 405,690, 435,678, 465,730, 502,688, 528,700, 568,718, 588,680, 612,738, 632,688, 658,725, 688,705, 732,722, 762,690, 795,718, 828,672, 858,735, 888,700, 915,678, 938,718, 958,695, 975,680, 988,705, 995,668,
  202,590, 212,618, 220,572, 230,598, 258,612, 300,598, 335,592, 382,650, 402,608, 432,588, 465,612, 492,635, 522,580, 545,628, 582,645, 598,575, 632,598, 668,640, 692,575, 718,652, 752,612, 785,590, 828,642, 862,580, 905,642, 925,605, 948,575, 978,640,
  160,510, 172,475, 200,465, 232,515, 245,495, 258,480, 278,458, 318,475, 328,530, 368,490, 382,475, 408,520, 442,505, 468,440, 498,490, 512,455, 558,500, 572,440, 598,530, 635,478, 648,515, 690,462, 712,535, 742,508, 762,442, 778,520, 802,470, 830,535, 875,465, 905,515, 925,448, 968,478, 988,552,
  132,378, 140,358, 198,395, 212,372, 228,392, 268,365, 298,385, 332,395, 345,368, 405,372, 435,382, 490,368, 515,395, 552,368, 575,392, 628,355, 645,395, 682,372, 718,392, 748,368, 780,348, 802,392, 812,378, 830,352, 858,385, 872,368, 925,395, 952,345, 972,390,
  178,305, 175,285, 182,270, 210,285, 220,305, 255,298, 278,325, 308,285, 360,318, 412,315, 428,285, 452,322, 488,275, 520,310, 580,278, 602,320, 635,298, 692,330, 712,285, 752,325, 772,262, 815,275, 848,315, 870,270, 878,255, 892,292, 905,318, 945,270, 968,325,
  95,200, 112,182, 142,190, 172,215, 222,188, 232,205, 285,200, 318,190, 345,215, 378,205, 405,190, 435,210, 485,188, 505,215, 548,200, 578,222, 610,188, 648,218, 668,195, 712,190, 738,215, 762,198, 790,188, 825,208, 858,192, 875,165, 882,150, 895,215, 925,172, 945,205, 968,190, 985,175, 992,165,
  112,140, 152,125, 175,135, 195,150, 215,110, 232,90, 262,138, 275,105, 295,92, 322,128, 352,115, 378,92, 412,132, 442,115, 478,135, 495,105, 520,92, 558,122, 578,105, 605,135, 645,110, 672,95, 698,130, 725,105, 762,118, 790,95, 815,122, 858,108, 868,90, 878,98, 892,112, 905,105, 940,128, 975,122, 992,115, 998,118,
  90,62, 112,45, 145,70, 158,52, 180,68, 195,62, 212,58, 232,52, 258,78, 285,50, 325,72, 338,55, 348,78, 405,62, 420,45, 452,68, 482,52, 518,75, 530,62, 565,72, 605,45, 632,85, 658,55, 668,48, 685,62, 702,72, 722,52, 752,68, 772,58, 802,45, 832,68, 862,52, 872,72, 888,62, 895,80, 915,45, 935,60, 965,55, 982,48, 995,62,
  62,18, 118,22, 142,15, 182,20, 192,8, 205,22, 215,12, 225,28, 235,18, 242,3, 252,22, 265,15, 280,22, 298,10, 312,25, 332,18, 372,12, 388,22, 402,10, 422,25, 440,12, 452,25, 462,15, 472,20, 482,25, 495,8, 505,18, 515,25, 545,12, 575,20, 590,8, 615,18, 635,10, 655,25, 662,5, 675,18, 690,8, 718,18, 742,12, 768,22, 805,15, 832,12, 852,22, 880,12, 912,20, 925,12, 945,22, 955,18, 966,10, 974,18, 982,22, 986,7, 990,17, 994,8, 998,20
];

const toPoints = (flat) =>
  d3.range(0, flat.length, 2).map((i) => ({ x: flat[i] / 1000, y: flat[i + 1] / 1000 }));

const width = 1226,
  height = 1118;
const blue = '#2c70b7';

const svg = d3
  .select('#chart')
  .append('svg')
  .attr('width', width)
  .attr('height', height);

const fmt = (d) => (d === 0 ? '0' : d.toFixed(1));

function addText(parent, txt, x, y, size, opts = {}) {
  const t = parent
    .append('text')
    .attr('x', x)
    .attr('y', y)
    .attr('text-anchor', 'middle')
    .attr('dominant-baseline', 'middle')
    .style('font-size', size + 'px')
    .style('fill', opts.fill || '#1a1a1a')
    .text(txt);
  if (opts.rotate) t.attr('transform', `rotate(-90 ${x} ${y})`);
  return t;
}

// saturated panels on top
function densePanel(p) {
  const x = d3.scaleLinear().domain([0, 1]).range([p.left, p.right]);
  const y = d3.scaleLinear().domain([0, 1]).range([p.bottom, p.top]);
  const g = svg.append('g');

  g.append('rect')
    .attr('x', x(0))
    .attr('y', y(1))
    .attr('width', x(1) - x(0))
    .attr('height', y(0) - y(1))
    .attr('fill', blue);

  const marks = g.append('g').attr('class', 'soft');

  (p.lines || []).forEach(([vals, op, w]) => {
    marks
      .selectAll(null)
      .data(vals)
      .join('line')
      .attr('x1', (d) => x(d))
      .attr('x2', (d) => x(d))
      .attr('y1', y(1))
      .attr('y2', y(0))
      .attr('stroke', '#fff')
      .attr('stroke-opacity', op)
      .attr('stroke-width', w);
  });

  marks
    .selectAll('circle.gap')
    .data(toPoints(p.gaps))
    .join('circle')
    .attr('class', 'gap')
    .attr('cx', (d) => x(d.x))
    .attr('cy', (d) => y(d.y))
    .attr('r', p.r)
    .attr('fill', '#fff')
    .attr('fill-opacity', p.op);

  if (p.bigGaps) {
    marks
      .selectAll('circle.big')
      .data(toPoints(p.bigGaps))
      .join('circle')
      .attr('class', 'big')
      .attr('cx', (d) => x(d.x))
      .attr('cy', (d) => y(d.y))
      .attr('r', 1.6)
      .attr('fill', '#fff');
  }

  if (p.edge) {
    g.append('line')
      .attr('x1', x(0))
      .attr('x2', x(0))
      .attr('y1', y(1))
      .attr('y2', y(0))
      .attr('stroke', '#7d8a96')
      .attr('stroke-width', 1.2);
  }

  // tick labels sit on their own spacing in the reference, not on the plot edges
  const yLab = d3.scaleLinear().domain([0, 1]).range(p.yLabels);
  const xLab = d3.scaleLinear().domain([0, 1]).range(p.xLabels);
  const yAxis = g
    .append('g')
    .attr('transform', `translate(${p.yLabelRight},0)`)
    .call(d3.axisLeft(yLab).tickValues(topTicks).tickFormat(fmt).tickSize(0).tickPadding(0));
  const xAxis = g
    .append('g')
    .attr('transform', `translate(0,${p.xLabelY})`)
    .call(d3.axisBottom(xLab).tickValues(topTicks).tickFormat(fmt).tickSize(0).tickPadding(0));
  [yAxis, xAxis].forEach((a) => {
    a.select('.domain').remove();
    a.selectAll('text')
      .style('font-size', '27px')
      .style('font-family', '"Liberation Sans", Arial, sans-serif')
      .style('fill', '#1a1a1a');
  });
  xAxis.selectAll('text').attr('y', 0).attr('dy', '0.35em');

  addText(g, p.title, p.titleX, p.titleY, 31.6);
}

densePanel({
  title: 'IUPred-Short AA score',
  titleX: 338, titleY: 24,
  left: 104, right: 575, top: 47, bottom: 277,
  yLabels: [270, 48], yLabelRight: 98, xLabels: [105, 575], xLabelY: 293,
  gaps: iupredAaGaps, r: 0.95, op: 0.8,
  lines: [[iupredAaGapLinesBright, 0.8, 1.5], [iupredAaGapLinesFaint, 0.45, 1.2]]
});
densePanel({
  title: 'IUPred-Short Window score',
  titleX: 956, titleY: 24,
  left: 723, right: 1195, top: 47, bottom: 277,
  yLabels: [271, 48], yLabelRight: 713, xLabels: [725, 1196], xLabelY: 293,
  gaps: iupredWindowGaps, r: 0.9, op: 0.75
});
densePanel({
  title: 'PONDR AA score',
  titleX: 336, titleY: 347,
  left: 104, right: 575, top: 367, bottom: 594,
  yLabels: [596, 372], yLabelRight: 98, xLabels: [107, 575], xLabelY: 611,
  gaps: pondrAaGaps.concat(pondrAaClumps), bigGaps: pondrAaBigGaps, r: 1, op: 0.85, edge: true
});
densePanel({
  title: 'PONDR Window score',
  titleX: 959, titleY: 347,
  left: 723, right: 1195, top: 367, bottom: 594,
  yLabels: [589, 367], yLabelRight: 713, xLabels: [725, 1196], xLabelY: 611,
  gaps: pondrWindowGaps.concat(pondrWindowClumps), bigGaps: pondrWindowBigGaps, r: 1, op: 0.85, edge: true
});

addText(svg, 'FATHMM Mutation Pathogenicity', 26, 309, 31.8, { rotate: true });
addText(svg, 'scor', 62, 318, 29.6, { rotate: true });
addText(svg, 'Predicted Disorder score', 667, 659, 31.8);

// sparse panels at the bottom
function sparsePanel(p) {
  const x = d3.scaleLinear().domain([0, 1]).range([p.left, p.right]);
  const y = d3.scaleLinear().domain([0, 1]).range([p.bottom, p.top]);
  const g = svg.append('g');

  g.append('g')
    .attr('class', 'soft')
    .selectAll('circle')
    .data(toPoints(p.pts))
    .join('circle')
    .attr('cx', (d) => x(d.x))
    .attr('cy', (d) => y(d.y))
    .attr('r', p.r)
    .attr('fill', p.color);

  const xAxis = g
    .append('g')
    .attr('transform', `translate(0,${p.bottom})`)
    .call(d3.axisBottom(x).tickValues(lowXTicks).tickFormat((d) => (d === 0 || d === 1 ? d : d.toFixed(1))).tickSizeInner(-3).tickSizeOuter(0).tickPadding(p.xPad));
  const yAxis = g
    .append('g')
    .attr('transform', `translate(${p.left},0)`)
    .call(d3.axisLeft(y).tickValues(lowYTicks).tickFormat(p.yLabels ? (d) => (d === 0 || d === 1 ? d : d.toFixed(1)) : '').tickSizeInner(-3).tickSizeOuter(0).tickPadding(4));
  [xAxis, yAxis].forEach((a) => {
    a.select('.domain').attr('stroke', '#808080').attr('stroke-width', 1.2);
    a.selectAll('.tick line').attr('stroke', '#808080');
    a.selectAll('text')
      .style('font-size', '10px')
      .style('font-family', '"Liberation Sans", Arial, sans-serif')
      .style('fill', '#808080');
  });

  addText(g, p.title, p.titleX, p.titleY, 23.3);
  addText(g, p.xTitle, p.xTitleX, p.xTitleY, 23.3);

  // the original inner title is cut off by the pasted heading, only its lower edge shows
  const clipId = 'clip' + p.left;
  svg.append('clipPath').attr('id', clipId)
    .append('rect')
    .attr('x', p.fragX - 60).attr('y', p.fragClipTop)
    .attr('width', 120).attr('height', 8);
  g.append('text')
    .attr('x', p.fragX)
    .attr('y', p.fragBase)
    .attr('text-anchor', 'middle')
    .attr('clip-path', `url(#${clipId})`)
    .style('font-size', p.fragSize + 'px')
    .style('fill', '#333')
    .text(p.frag);
}

sparsePanel({
  title: 'Denovo genes', titleX: 377, titleY: 725,
  xTitle: 'PONDR disorder score', xTitleX: 377, xTitleY: 1104,
  left: 205, right: 553, top: 753, bottom: 1062,
  pts: denovoPts, r: 1.35, color: '#3a7fb8', xPad: 6,
  frag: 'denovo genes', fragX: 379, fragBase: 749, fragClipTop: 745, fragSize: 13
});
sparsePanel({
  title: 'Pseudogenes', titleX: 894, titleY: 722,
  xTitle: 'PONDR disorder score', xTitleX: 874, xTitleY: 1107,
  left: 693, right: 1075, top: 750, bottom: 1066,
  pts: pseudoPts.concat(pseudoExtraPts), r: 1.4, color: '#2e75b6', xPad: 6, yLabels: true,
  frag: 'Pseudogenes', fragX: 884, fragBase: 745, fragClipTop: 742, fragSize: 14
});

addText(svg, 'FATHMM Mutation Pathogenicity', 165, 911, 22, { rotate: true });
addText(svg, 'score', 190, 904, 22, { rotate: true });
</script>
</body>
</html>
